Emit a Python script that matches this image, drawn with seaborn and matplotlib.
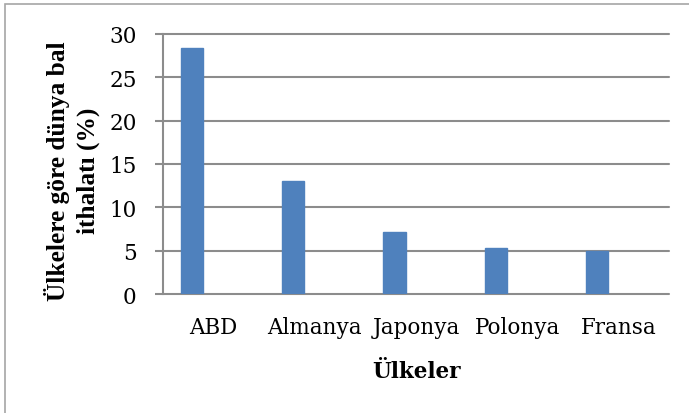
import seaborn as sns
import pandas as pd
from matplotlib import pyplot as plt
from matplotlib.patches import Rectangle

countries = ['ABD', 'Almanya', 'Japonya', 'Polonya', 'Fransa']
shares = [28.4, 13.0, 7.1, 5.35, 5.0]
yticks = [0, 5, 10, 15, 20, 25, 30]

df = pd.DataFrame({'Ülkeler': countries, 'Pay': shares})

sns.set_style('white')
plt.rcParams['font.family'] = ['DejaVu Serif']
plt.rcParams['text.color'] = 'black'
plt.rcParams['axes.labelcolor'] = 'black'
plt.rcParams['xtick.labelcolor'] = 'black'
plt.rcParams['ytick.labelcolor'] = 'black'

fig = plt.figure(figsize=(6.89, 4.14), dpi=100)
ax = fig.add_axes([0.2366, 0.2874, 0.7344, 0.6281])

sns.barplot(data=df, x='Ülkeler', y='Pay', color='#4F81BD', saturation=1,
            width=0.22, ax=ax)

# bars sit left of the category centre, like the excel original (2nd series empty)
bar_shift = 0.213
for p in ax.patches:
    p.set_x(p.get_x() - bar_shift)
    p.set_edgecolor('#4F81BD')

ax.set_ylim(0, 30)
ax.set_yticks(yticks)
ax.set_xlim(-0.5, 4.5)
ax.yaxis.grid(True, color='#8c8c8c', linewidth=1.5)
for gl in ax.get_ygridlines():
    gl.set_clip_on(False)
ax.set_axisbelow(True)

for s in ['top', 'right', 'bottom']:
    ax.spines[s].set_visible(False)
ax.spines['left'].set_color('#8c8c8c')
ax.spines['left'].set_linewidth(1.5)

ax.tick_params(axis='y', length=6, width=1.5, color='#8c8c8c', labelcolor='black',
               labelsize=15.5, pad=13, left=True)
ax.tick_params(axis='x', length=0, labelcolor='black', labelsize=15.5, pad=16)

ax.set_xlabel('Ülkeler', fontsize=15.5, fontweight='bold', labelpad=16, color='black')
ax.set_ylabel('Ülkelere göre dünya bal\nithalatı (%)', fontsize=18.3, fontweight='bold',
              family='Liberation Serif', va='center', linespacing=1.4, color='black')
ax.yaxis.set_label_coords(-0.18, 0.477)

# chart frame
fig.patches.append(Rectangle((5 / 689, -0.1), 1.2, 1 - 5 / 414 + 0.1, transform=fig.transFigure,
                             fill=False, edgecolor='#a6a6a6', linewidth=1.2))

fig.savefig('out.png', dpi=100)
